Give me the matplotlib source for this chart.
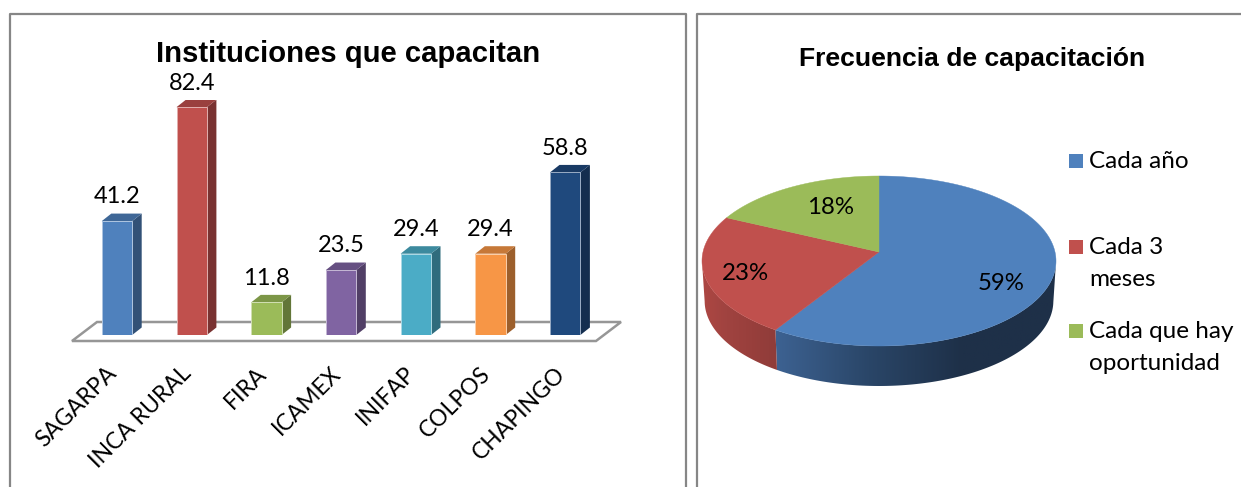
#!/usr/bin/env python3
"""Two office-style charts: 3-D bars of institutions and a 3-D pie of frequency."""

import matplotlib

matplotlib.use("Agg")
import matplotlib.pyplot as plt
import numpy as np
from matplotlib.colors import LinearSegmentedColormap, to_rgb
from matplotlib.patches import Polygon, Rectangle
from matplotlib.transforms import ScaledTranslation

institutions = ["SAGARPA", "INCA RURAL", "FIRA", "ICAMEX", "INIFAP", "COLPOS", "CHAPINGO"]
institution_values = [41.2, 82.4, 11.8, 23.5, 29.4, 29.4, 58.8]
bar_colors = ["#4F81BD", "#C0504D", "#9BBB59", "#8064A2", "#4BACC6", "#F79646", "#1F497D"]

frequency_labels = ["Cada año", "Cada 3\nmeses", "Cada que hay\noportunidad"]
frequency_values = [59, 23, 18]
pie_colors = ["#4F81BD", "#C0504D", "#9BBB59"]

W, H = 1241, 487
LABEL_FONT = ["Lato", "DejaVu Sans"]
TITLE_FONT = ["Liberation Sans", "DejaVu Sans"]
FRAME = "#868686"


def add_px_axes(fig, left, top, right, bottom):
    """Axes placed by pixel box, y counted from the top of the image."""
    return fig.add_axes([left / W, 1 - bottom / H, (right - left) / W, (bottom - top) / H])


def shade(color, k):
    return tuple(c * k for c in to_rgb(color))


def draw_bars(fig):
    # 74.7 px per category, 2.765 px per unit, baseline at y=335
    ax = add_px_axes(fig, 72, 100, 621, 335)
    ax.set_xlim((72 - 117) / 74.7, (621 - 117) / 74.7)
    ax.set_ylim(0, 235 / 2.765)
    ax.patch.set_alpha(0)
    for side in ax.spines.values():
        side.set_visible(False)
    ax.set_yticks([])

    dx, dy = 9.5 / 74.7, 7.5 / 2.765
    half = 15.2 / 74.7

    # floor, sticks out a bit under the bars
    fx0, fx1 = ax.get_xlim()
    floor = Polygon(
        [(fx0, -6 / 2.765), (fx0 + 25 / 74.7, 13 / 2.765), (fx1, 13 / 2.765), (fx1 - 25 / 74.7, -6 / 2.765)],
        closed=True, fc="white", ec="#969696", lw=1.8, clip_on=False, zorder=1,
    )
    ax.add_patch(floor)

    xs = np.arange(len(institutions))
    ax.bar(xs, institution_values, width=2 * half, color=bar_colors, edgecolor="none", zorder=3)
    for x, v, c in zip(xs, institution_values, bar_colors):
        r = x + half
        l = x - half
        ax.add_patch(Polygon([(r, 0), (r + dx, dy), (r + dx, v + dy), (r, v)], fc=shade(c, 0.63), ec="none", zorder=2.5))
        ax.add_patch(Polygon([(l, v), (l + dx, v + dy), (r + dx, v + dy), (r, v)], fc=shade(c, 0.8), ec="none", zorder=2.5))
        # thin pale rim round the front face
        rim = tuple(0.55 + 0.45 * k for k in to_rgb(c))
        ax.add_patch(Rectangle((l, 0), 2 * half, v, fc="none", ec=rim, lw=0.7, zorder=3.5))
        ax.text(x, v + dy + 2.2, f"{v:.1f}", ha="center", va="bottom", fontsize=17,
                family=LABEL_FONT, color="black", clip_on=False)

    ax.set_xticks(xs)
    ax.set_xticklabels(institutions, rotation=45, ha="right", va="top", rotation_mode="anchor",
                       fontsize=16.5, family=LABEL_FONT)
    ax.tick_params(axis="x", length=0, pad=20)
    shift = ScaledTranslation(-11 / 100, 0, fig.dpi_scale_trans)
    for lab in ax.get_xticklabels():
        lab.set_transform(lab.get_transform() + shift)
    return ax


def project(theta):
    """Clockwise angle from 12 o'clock to the tilted disc; apex sits above the ellipse centre."""
    delta = -9 / 85
    x, y = np.sin(theta), -np.cos(theta)
    den = 1 + delta * y
    return x * np.sqrt(1 - delta ** 2) / den, (y + delta) / den


def draw_pie(fig):
    # unit ellipse: 177 px wide radius, 85 px tall radius, centred at (879, 261)
    ax = add_px_axes(fig, 702, 176, 1056, 386)
    depth = 40 / 85
    ax.set_xlim(-1, 1)
    ax.set_ylim(1 + depth, -1)
    ax.axis("off")

    fracs = np.array(frequency_values) / sum(frequency_values)
    edges = np.concatenate([[0], np.cumsum(fracs)]) * 2 * np.pi
    apex = (0, -9 / 85)
    # gradient stops for the visible walls
    wall_stops = [["#3D6292", "#2A4668", "#1E3048", "#1E3048"], ["#AD4743", "#A04340", "#983F3C", "#8F3C39"], ["#7A9146"] * 2]

    for i, color in enumerate(pie_colors):
        t = np.linspace(edges[i], edges[i + 1], 240)
        x, y = project(t)
        front = y >= 0
        if front.any():
            wx, wy = x[front], y[front]
            wall = np.column_stack([np.r_[wx, 0.985 * wx[::-1]], np.r_[wy, wy[::-1] + depth]])
            poly = Polygon(wall, closed=True, fc="none", ec="none", zorder=1)
            ax.add_patch(poly)
            cmap = LinearSegmentedColormap.from_list("wall", wall_stops[i])
            grad = np.linspace(0, 1, 256).reshape(1, -1)
            im = ax.imshow(grad, cmap=cmap, aspect="auto", zorder=1,
                           extent=(wall[:, 0].min(), wall[:, 0].max(), 1 + depth, -1))
            im.set_clip_path(poly)
        ax.add_patch(Polygon(np.vstack([apex, np.column_stack([x, y])]), closed=True,
                             fc=color, ec=color, lw=0.3, zorder=2, clip_on=False))
    ax.set_xlim(-1, 1)
    ax.set_ylim(1 + depth, -1)
    return ax


def main():
    fig = plt.figure(figsize=(W / 100, H / 100), dpi=100, facecolor="white")

    # overlay in image pixels for frames, titles and legend
    bg = fig.add_axes([0, 0, 1, 1], zorder=0)
    bg.set_xlim(0, W)
    bg.set_ylim(H, 0)
    bg.axis("off")
    bg.plot([10, 10, 686, 686], [H, 14, 14, H], color=FRAME, lw=1.6)
    bg.plot([697, 697, W], [H, 14, 14], color=FRAME, lw=1.6)

    draw_bars(fig)
    draw_pie(fig)

    top = fig.add_axes([0, 0, 1, 1], zorder=5)
    top.set_xlim(0, W)
    top.set_ylim(H, 0)
    top.axis("off")
    top.text(348, 54, "Instituciones que capacitan", ha="center", va="center", fontsize=21.1,
             fontweight="bold", family=TITLE_FONT)
    top.text(972, 59, "Frecuencia de capacitación", ha="center", va="center", fontsize=19.05,
             fontweight="bold", family=TITLE_FONT)

    pct_pos = [(1001, 283), (745, 274), (831, 208)]
    for v, (px, py) in zip(frequency_values, pct_pos):
        top.text(px, py, f"{v}%", ha="center", va="center", fontsize=17.3, family=LABEL_FONT)

    legend_y = [161, 247, 331]
    for label, color, y in zip(frequency_labels, pie_colors, legend_y):
        top.add_patch(Rectangle((1069, y - 7), 14, 14, fc=color, ec="none"))
        top.text(1089, y - 10, label, ha="left", va="top", fontsize=17.5, family=LABEL_FONT, linespacing=1.62)

    fig.savefig("out.png", dpi=100)
    plt.close(fig)


if __name__ == "__main__":
    main()
